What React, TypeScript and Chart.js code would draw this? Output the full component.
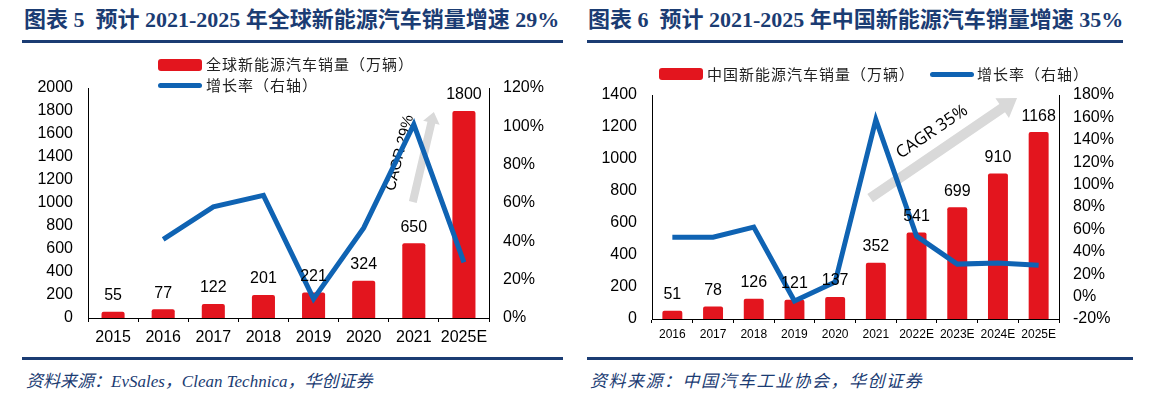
import React, { useEffect, useRef } from 'react';
import { Chart, registerables } from 'chart.js';
Chart.register(...registerables);

// ---------- data ----------
const globalYears = ['2015', '2016', '2017', '2018', '2019', '2020', '2021', '2025E'];
const globalSales = [55, 77, 122, 201, 221, 324, 650, 1800];
const globalGrowth = [null, 41, 58, 64, 10, 47, 101, 29];

const chinaYears = ['2016', '2017', '2018', '2019', '2020', '2021', '2022E', '2023E', '2024E', '2025E'];
const chinaSales = [51, 78, 126, 121, 137, 352, 541, 699, 910, 1168];
const chinaGrowth = [53, 53, 62, -4, 13, 158, 54, 29, 30, 28];

const leftTitle = '图表 5  预计 2021-2025 年全球新能源汽车销量增速 29%';
const rightTitle = '图表 6  预计 2021-2025 年中国新能源汽车销量增速 35%';
const leftBarLabel = '全球新能源汽车销量（万辆）';
const rightBarLabel = '中国新能源汽车销量（万辆）';
const lineLabel = '增长率（右轴）';
const leftSource = '资料来源：EvSales，Clean Technica，华创证券';
const rightSource = '资料来源：中国汽车工业协会，华创证券';
const leftCagr = 'CAGR 29%';
const rightCagr = 'CAGR 35%';

const NAVY = '#1B3C73';
const RED = '#E3151E';
const BLUE = '#0F63B3';
const ARIAL = '"Liberation Sans", Arial, sans-serif';

type Spec = {
  labels: string[];
  bars: number[];
  line: (number | null)[];
  barLabel: string;
  yMax: number;
  yStep: number;
  y1Min: number;
  y1Max: number;
  y1Step: number;
  leftW: number;
  rightW: number;
  padTop: number;
  xH: number;
  xFont: number;
  xPad: number;
  barPct: number;
  arrow: { x0: number; v0: number; x1: number; v1: number; shaft: number; headW: number; headL: number };
  cagr: { text: string; x: number; v: number; angle: number; font: string };
};

function drawArrow(ctx: CanvasRenderingContext2D, x0: number, y0: number, x1: number, y1: number, shaft: number, headW: number, headL: number) {
  const dx = x1 - x0, dy = y1 - y0;
  const len = Math.hypot(dx, dy);
  const ux = dx / len, uy = dy / len;
  const px = -uy, py = ux;
  const bx = x1 - ux * headL, by = y1 - uy * headL;
  ctx.beginPath();
  ctx.moveTo(x0 + px * shaft / 2, y0 + py * shaft / 2);
  ctx.lineTo(bx + px * shaft / 2, by + py * shaft / 2);
  ctx.lineTo(bx + px * headW / 2, by + py * headW / 2);
  ctx.lineTo(x1, y1);
  ctx.lineTo(bx - px * headW / 2, by - py * headW / 2);
  ctx.lineTo(bx - px * shaft / 2, by - py * shaft / 2);
  ctx.lineTo(x0 - px * shaft / 2, y0 - py * shaft / 2);
  ctx.closePath();
  ctx.fillStyle = '#D9D9D9';
  ctx.fill();
}

function ComboChart({ spec, left, top, width, height }: { spec: Spec; left: number; top: number; width: number; height: number }) {
  const ref = useRef<HTMLCanvasElement | null>(null);
  useEffect(() => {
    if (!ref.current) return;
    const annot = {
      id: 'annot',
      beforeDatasetsDraw(chart: any) {
        const ctx = chart.ctx;
        const xs = chart.scales.x, ys = chart.scales.y;
        const a = spec.arrow;
        ctx.save();
        drawArrow(ctx, xs.getPixelForValue(a.x0), ys.getPixelForValue(a.v0), xs.getPixelForValue(a.x1), ys.getPixelForValue(a.v1), a.shaft, a.headW, a.headL);
        const c = spec.cagr;
        ctx.translate(xs.getPixelForValue(c.x), ys.getPixelForValue(c.v));
        ctx.rotate((c.angle * Math.PI) / 180);
        ctx.font = c.font;
        ctx.fillStyle = '#000';
        ctx.textAlign = 'center';
        ctx.textBaseline = 'middle';
        ctx.fillText(c.text, 0, 0);
        ctx.restore();
      },
      afterDatasetsDraw(chart: any) {
        const ctx = chart.ctx;
        const meta = chart.getDatasetMeta(0);
        ctx.save();
        ctx.font = `16px ${ARIAL}`;
        ctx.fillStyle = '#000';
        ctx.textAlign = 'center';
        ctx.textBaseline = 'middle';
        meta.data.forEach((el: any, i: number) => {
          ctx.fillText(String(spec.bars[i]), el.x, el.y - 16);
        });
        ctx.restore();
      },
    };
    const chart = new Chart(ref.current, {
      type: 'bar',
      data: {
        labels: spec.labels,
        datasets: [
          {
            type: 'bar',
            label: spec.barLabel,
            data: spec.bars,
            backgroundColor: RED,
            yAxisID: 'y',
            barPercentage: spec.barPct,
            categoryPercentage: 1,
            borderRadius: 2,
            order: 2,
          } as any,
          {
            type: 'line',
            label: lineLabel,
            data: spec.line,
            borderColor: BLUE,
            backgroundColor: BLUE,
            borderWidth: 5,
            pointRadius: 0,
            tension: 0,
            spanGaps: false,
            borderJoinStyle: 'miter',
            yAxisID: 'y1',
            order: 1,
          } as any,
        ],
      },
      options: {
        responsive: false,
        animation: false,
        devicePixelRatio: 1,
        layout: { padding: { top: spec.padTop, left: 0, right: 0, bottom: 0 } },
        plugins: { legend: { display: false }, tooltip: { enabled: false }, title: { display: false } },
        scales: {
          x: {
            type: 'category',
            offset: true,
            grid: { display: true, drawOnChartArea: false, drawTicks: true, tickLength: 4, color: '#000', offset: true },
            border: { display: true, color: '#000', width: 1 },
            ticks: { font: { size: spec.xFont, family: ARIAL }, color: '#000', padding: spec.xPad, maxRotation: 0, autoSkip: false },
            afterFit: (s: any) => { s.height = spec.xH; },
          },
          y: {
            position: 'left',
            min: 0,
            max: spec.yMax,
            ticks: { stepSize: spec.yStep, font: { size: 16, family: ARIAL }, color: '#000', padding: 15, callback: (v: any) => String(v) },
            grid: { display: false, drawTicks: false },
            border: { display: true, color: '#000', width: 1 },
            afterFit: (s: any) => { s.width = spec.leftW; },
          },
          y1: {
            position: 'right',
            min: spec.y1Min,
            max: spec.y1Max,
            ticks: { stepSize: spec.y1Step, font: { size: 16, family: ARIAL }, color: '#000', padding: 14, callback: (v: any) => `${v}%` },
            grid: { display: false, drawTicks: false },
            border: { display: true, color: '#000', width: 1 },
            afterFit: (s: any) => { s.width = spec.rightW; },
          },
        },
      },
      plugins: [annot],
    } as any);
    return () => chart.destroy();
  }, [spec]);
  return (
    <div style={{ position: 'absolute', left, top, width, height }}>
      <canvas ref={ref} width={width} height={height} style={{ width, height, display: 'block' }} />
    </div>
  );
}

const leftSpec: Spec = {
  labels: globalYears,
  bars: globalSales,
  line: globalGrowth,
  barLabel: leftBarLabel,
  yMax: 2000,
  yStep: 200,
  y1Min: 0,
  y1Max: 120,
  y1Step: 20,
  leftW: 88,
  rightW: 91,
  padTop: 38,
  xH: 32,
  xFont: 16,
  xPad: 6,
  barPct: 0.46,
  arrow: { x0: 5.98, v0: 1009, x1: 6.4, v1: 1791, shaft: 8, headW: 17, headL: 11 },
  cagr: { text: leftCagr, x: 5.72, v: 1435, angle: -76, font: `15px ${ARIAL}` },
};

const rightSpec: Spec = {
  labels: chinaYears,
  bars: chinaSales,
  line: chinaGrowth,
  barLabel: rightBarLabel,
  yMax: 1400,
  yStep: 200,
  y1Min: -20,
  y1Max: 180,
  y1Step: 20,
  leftW: 72,
  rightW: 106,
  padTop: 45,
  xH: 31,
  xFont: 12,
  xPad: 4,
  barPct: 0.49,
  arrow: { x0: 4.86, v0: 756, x1: 8.47, v1: 1381, shaft: 10, headW: 24, headL: 18 },
  cagr: { text: rightCagr, x: 6.38, v: 1169, angle: -34, font: `17px "Open Sans", ${ARIAL}` },
};

const titleStyle: React.CSSProperties = {
  position: 'absolute',
  top: 9,
  fontFamily: '"Liberation Serif", "Noto Sans CJK SC", serif',
  fontWeight: 700,
  fontSize: 22,
  lineHeight: '22px',
  color: NAVY,
  whiteSpace: 'pre',
};
const legendText: React.CSSProperties = {
  position: 'absolute',
  fontFamily: '"Noto Sans CJK SC", sans-serif',
  fontSize: 15,
  letterSpacing: 1,
  lineHeight: '16px',
  color: '#222',
  whiteSpace: 'nowrap',
};
const sourceStyle: React.CSSProperties = {
  position: 'absolute',
  top: 372,
  fontFamily: '"Liberation Serif", "Noto Sans CJK SC", serif',
  fontStyle: 'italic',
  fontSize: 17,
  lineHeight: '20px',
  color: NAVY,
  whiteSpace: 'nowrap',
};
const rule = (left: number, top: number, width: number, h: number): React.CSSProperties => ({
  position: 'absolute', left, top, width, height: h, background: NAVY,
});

export default function App() {
  return (
    <div style={{ position: 'fixed', left: 0, top: 0, width: 1165, height: 397, background: '#fff', overflow: 'hidden' }}>
      {/* left panel */}
      <div style={{ ...titleStyle, left: 24 }}>{leftTitle}</div>
      <div style={rule(22, 40, 541, 3)} />
      <ComboChart spec={leftSpec} left={0} top={50} width={580} height={300} />
      <div style={{ position: 'absolute', left: 158, top: 59, width: 44, height: 12, borderRadius: 3, background: RED }} />
      <div style={{ ...legendText, left: 206, top: 56 }}>{leftBarLabel}</div>
      <div style={{ position: 'absolute', left: 158, top: 83, width: 44, height: 5, borderRadius: 3, background: BLUE }} />
      <div style={{ ...legendText, left: 206, top: 77 }}>{lineLabel}</div>
      <div style={rule(22, 357, 541, 3)} />
      <div style={{ ...sourceStyle, left: 26 }}>{leftSource}</div>

      {/* right panel */}
      <div style={{ ...titleStyle, left: 588 }}>{rightTitle}</div>
      <div style={rule(587, 40, 536, 3)} />
      <ComboChart spec={rightSpec} left={580} top={50} width={585} height={300} />
      <div style={{ position: 'absolute', left: 659, top: 68, width: 44, height: 12, borderRadius: 3, background: RED }} />
      <div style={{ ...legendText, left: 707, top: 66 }}>{rightBarLabel}</div>
      <div style={{ position: 'absolute', left: 930, top: 72, width: 44, height: 5, borderRadius: 3, background: BLUE }} />
      <div style={{ ...legendText, left: 977, top: 66 }}>{lineLabel}</div>
      <div style={rule(587, 357, 546, 3)} />
      <div style={{ ...sourceStyle, left: 590, letterSpacing: 1.5 }}>{rightSource}</div>
    </div>
  );
}
